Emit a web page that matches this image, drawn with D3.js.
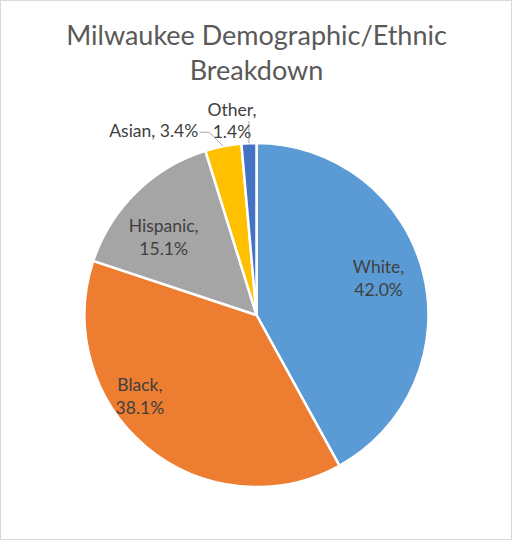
<!DOCTYPE html>
<html>
<head>
<meta charset="UTF-8" />
<script src="https://cdn.jsdelivr.net/npm/d3@7"></script>
<title>Milwaukee Demographic/Ethnic Breakdown</title>
<style>
  body { margin: 0; background: white; }
  text { font-family: Lato, "Open Sans", sans-serif; }
</style>
</head>
<body>
<div id="chart"></div>
<script>
const categories = ["White", "Black", "Hispanic", "Asian", "Other"];
const shares = [42.0, 38.1, 15.1, 3.4, 1.4];
const colours = ["#5B9BD5", "#ED7D31", "#A5A5A5", "#FFC000", "#4472C4"];
const titleLines = ["Milwaukee Demographic/Ethnic", "Breakdown"];

const w = 513, h = 541;
const cx = 256.5, cy = 315, r = 172;
const labelSize = 17.5;

const svg = d3.select("#chart").append("svg")
    .attr("width", w).attr("height", h);

svg.append("rect")
    .attr("x", 0.5).attr("y", 0.5)
    .attr("width", w - 2).attr("height", h - 2)
    .attr("fill", "white").attr("stroke", "#d9d9d9");

svg.selectAll(".title").data(titleLines).enter()
    .append("text").attr("class", "title")
    .attr("x", w / 2).attr("y", (d, i) => 45 + i * 35)
    .attr("text-anchor", "middle")
    .attr("font-size", 27).attr("fill", "#595959")
    .text(d => d);

const data = categories.map((c, i) => ({ name: c, value: shares[i], colour: colours[i] }));
const pie = d3.pie().sort(null).value(d => d.value);
const arcs = pie(data);
const arc = d3.arc().innerRadius(0).outerRadius(r);

const g = svg.append("g").attr("transform", "translate(" + cx + "," + cy + ")");
g.selectAll("path").data(arcs).enter()
    .append("path")
    .attr("d", arc)
    .attr("fill", d => d.data.colour)
    .attr("stroke", "white").attr("stroke-width", 2.5)
    .attr("stroke-linejoin", "round");

// label placement: inside labels along the slice, small slices pulled outside
const place = {
    White:    { rr: 0.74, da: -2 },
    Black:    { rr: 0.83, da: 15 },
    Hispanic: { rr: 0.70, da: -6 }
};
const fmt = d => d.data.name + ",";
const pct = d => d.data.value.toFixed(1) + "%";
const polar = (a, rad) => [rad * Math.sin(a), -rad * Math.cos(a)];

arcs.forEach(d => {
    const mid = (d.startAngle + d.endAngle) / 2;
    const p = place[d.data.name];
    if (p) {
        const [x, y] = polar(mid + p.da * Math.PI / 180, r * p.rr);
        const t = g.append("text").attr("text-anchor", "middle")
            .attr("font-size", labelSize).attr("fill", "#404040");
        t.append("tspan").attr("x", x).attr("y", y - 6).text(fmt(d));
        t.append("tspan").attr("x", x).attr("y", y + 17).text(pct(d));
    }
});

// outside labels with leader lines
const asian = arcs[3], other = arcs[4];
{
    const mid = (asian.startAngle + asian.endAngle) / 2;
    const [ex, ey] = polar(mid, r);
    const kx = ex - 14, ky = ey - 14;
    g.append("polyline")
        .attr("points", [[ex, ey], [kx, ky], [kx - 9, ky]].map(p => p.join(",")).join(" "))
        .attr("fill", "none").attr("stroke", "#a6a6a6").attr("stroke-width", 1);
    g.append("text").attr("text-anchor", "end")
        .attr("x", kx - 11).attr("y", ky + 5)
        .attr("font-size", labelSize).attr("fill", "#404040")
        .text(asian.data.name + ", " + pct(asian));
}
{
    const mid = (other.startAngle + other.endAngle) / 2;
    const [ex, ey] = polar(mid, r);
    g.append("line")
        .attr("x1", ex).attr("y1", ey).attr("x2", ex).attr("y2", ey - 22)
        .attr("stroke", "#a6a6a6").attr("stroke-width", 1);
    const t = g.append("text").attr("text-anchor", "middle")
        .attr("font-size", labelSize).attr("fill", "#404040");
    t.append("tspan").attr("x", ex - 17).attr("y", ey - 27).text(fmt(other));
    t.append("tspan").attr("x", ex - 17).attr("y", ey - 5).text(pct(other));
}
</script>
</body>
</html>
